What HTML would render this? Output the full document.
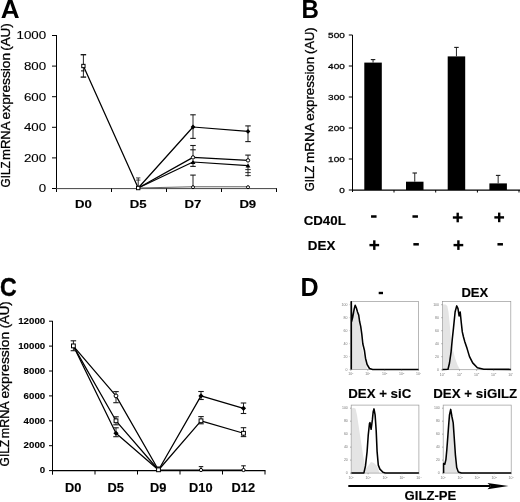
<!DOCTYPE html>
<html><head><meta charset="utf-8"><style>
html,body{margin:0;padding:0;background:#fff;}
body{width:520px;height:502px;overflow:hidden;}
svg{display:block;font-family:"Liberation Sans",sans-serif;filter:grayscale(1);}
</style></head><body>
<svg width="520" height="502" viewBox="0 0 520 502">
<rect width="520" height="502" fill="#fff"/>
<text transform="translate(0.65 18) scale(1.0440 1)" font-size="25.018" font-weight="bold" fill="#000">A</text>
<text transform="translate(10 187.38) rotate(-90) scale(0.9643 1)" font-size="12.100" font-weight="normal" fill="#000" stroke="#000" stroke-width="0.3">GILZ</text>
<text transform="translate(10 159.98) rotate(-90) scale(1.0808 1)" font-size="12.100" font-weight="normal" fill="#000" stroke="#000" stroke-width="0.3">mRNA</text>
<text transform="translate(10 119.39) rotate(-90) scale(1.1392 1)" font-size="12.100" font-weight="normal" fill="#000" stroke="#000" stroke-width="0.3">expression</text>
<text transform="translate(10 50.84) rotate(-90) scale(1.1119 1)" font-size="12.100" font-weight="normal" fill="#000" stroke="#000" stroke-width="0.3">(AU)</text>
<text transform="translate(38.71 192.4) scale(1.1738 1)" font-size="11.345" font-weight="normal" fill="#000" stroke="#000" stroke-width="0.12">0</text>
<text transform="translate(23.89 161.8) scale(1.1738 1)" font-size="11.345" font-weight="normal" fill="#000" stroke="#000" stroke-width="0.12">200</text>
<text transform="translate(23.89 131.2) scale(1.1738 1)" font-size="11.345" font-weight="normal" fill="#000" stroke="#000" stroke-width="0.12">400</text>
<text transform="translate(23.89 100.6) scale(1.1738 1)" font-size="11.345" font-weight="normal" fill="#000" stroke="#000" stroke-width="0.12">600</text>
<text transform="translate(23.89 70) scale(1.1738 1)" font-size="11.345" font-weight="normal" fill="#000" stroke="#000" stroke-width="0.12">800</text>
<text transform="translate(16.5 39.4) scale(1.1738 1)" font-size="11.345" font-weight="normal" fill="#000" stroke="#000" stroke-width="0.12">1000</text>
<line x1="52" y1="188.5" x2="56.5" y2="188.5" stroke="#000" stroke-width="1"/>
<line x1="52" y1="157.9" x2="56.5" y2="157.9" stroke="#000" stroke-width="1"/>
<line x1="52" y1="127.3" x2="56.5" y2="127.3" stroke="#000" stroke-width="1"/>
<line x1="52" y1="96.7" x2="56.5" y2="96.7" stroke="#000" stroke-width="1"/>
<line x1="52" y1="66.1" x2="56.5" y2="66.1" stroke="#000" stroke-width="1"/>
<line x1="52" y1="35.5" x2="56.5" y2="35.5" stroke="#000" stroke-width="1"/>
<line x1="56.5" y1="35" x2="56.5" y2="192" stroke="#000" stroke-width="1"/>
<line x1="56" y1="188.6" x2="277" y2="188.6" stroke="#444" stroke-width="1"/>
<line x1="111.5" y1="188.5" x2="111.5" y2="192" stroke="#000" stroke-width="1"/>
<line x1="166.5" y1="188.5" x2="166.5" y2="192" stroke="#000" stroke-width="1"/>
<line x1="221.5" y1="188.5" x2="221.5" y2="192" stroke="#000" stroke-width="1"/>
<line x1="276.5" y1="188.5" x2="276.5" y2="192" stroke="#000" stroke-width="1"/>
<text transform="translate(75.11 208.2) scale(1.1601 1)" font-size="11.345" font-weight="bold" fill="#000" stroke="#000" stroke-width="0.15">D0</text>
<text transform="translate(129.83 208.2) scale(1.1601 1)" font-size="11.345" font-weight="bold" fill="#000" stroke="#000" stroke-width="0.15">D5</text>
<text transform="translate(184.43 208.2) scale(1.1601 1)" font-size="11.345" font-weight="bold" fill="#000" stroke="#000" stroke-width="0.15">D7</text>
<text transform="translate(239.38 208.2) scale(1.1601 1)" font-size="11.345" font-weight="bold" fill="#000" stroke="#000" stroke-width="0.15">D9</text>
<polyline points="83.4,66 138.2,188 193,127 248,131.4" fill="none" stroke="#000" stroke-width="1.25" stroke-linejoin="round"/>
<polyline points="138.2,188 193,157.4 248,160.4" fill="none" stroke="#000" stroke-width="1.25" stroke-linejoin="round"/>
<polyline points="138.2,188 193,162 248,165.6" fill="none" stroke="#000" stroke-width="1.25" stroke-linejoin="round"/>
<polyline points="138.2,188 193,186.8 248,186.8" fill="none" stroke="#666" stroke-width="1.1" stroke-linejoin="round"/>
<line x1="83.4" y1="54.7" x2="83.4" y2="77.1" stroke="#1a1a1a" stroke-width="0.95"/>
<line x1="80.65" y1="54.7" x2="86.15" y2="54.7" stroke="#1a1a1a" stroke-width="1.4"/>
<line x1="80.65" y1="77.1" x2="86.15" y2="77.1" stroke="#1a1a1a" stroke-width="1.4"/>
<line x1="81" y1="70.9" x2="84.5" y2="70.9" stroke="#000" stroke-width="1"/>
<line x1="138.2" y1="178" x2="138.2" y2="188" stroke="#1a1a1a" stroke-width="0.95"/>
<line x1="136" y1="177.9" x2="140.4" y2="177.9" stroke="#1a1a1a" stroke-width="0.8"/>
<line x1="136" y1="180.1" x2="140.4" y2="180.1" stroke="#1a1a1a" stroke-width="0.8"/>
<line x1="193" y1="114.8" x2="193" y2="138.4" stroke="#1a1a1a" stroke-width="0.95"/>
<line x1="190.25" y1="114.8" x2="195.75" y2="114.8" stroke="#1a1a1a" stroke-width="1.1"/>
<line x1="190.25" y1="138.4" x2="195.75" y2="138.4" stroke="#1a1a1a" stroke-width="1.1"/>
<line x1="193" y1="145.5" x2="193" y2="157" stroke="#1a1a1a" stroke-width="0.95"/>
<line x1="190.25" y1="145.5" x2="195.75" y2="145.5" stroke="#1a1a1a" stroke-width="1.1"/>
<line x1="190.25" y1="149.8" x2="195.75" y2="149.8" stroke="#1a1a1a" stroke-width="1.1"/>
<line x1="193" y1="162" x2="193" y2="166.4" stroke="#1a1a1a" stroke-width="0.95"/>
<line x1="190.25" y1="166.4" x2="195.75" y2="166.4" stroke="#1a1a1a" stroke-width="1.1"/>
<line x1="193" y1="175.1" x2="193" y2="187" stroke="#1a1a1a" stroke-width="0.95"/>
<line x1="190.25" y1="175.1" x2="195.75" y2="175.1" stroke="#1a1a1a" stroke-width="1.1"/>
<line x1="248" y1="125.9" x2="248" y2="141.6" stroke="#1a1a1a" stroke-width="0.95"/>
<line x1="245.25" y1="125.9" x2="250.75" y2="125.9" stroke="#1a1a1a" stroke-width="1.1"/>
<line x1="245.25" y1="141.6" x2="250.75" y2="141.6" stroke="#1a1a1a" stroke-width="1.1"/>
<line x1="248" y1="155.1" x2="248" y2="160" stroke="#1a1a1a" stroke-width="0.95"/>
<line x1="245.25" y1="155.1" x2="250.75" y2="155.1" stroke="#1a1a1a" stroke-width="1.1"/>
<line x1="248" y1="165.5" x2="248" y2="176.5" stroke="#1a1a1a" stroke-width="0.95"/>
<line x1="245.25" y1="169.6" x2="250.75" y2="169.6" stroke="#1a1a1a" stroke-width="0.9"/>
<line x1="245.25" y1="172.6" x2="250.75" y2="172.6" stroke="#1a1a1a" stroke-width="0.9"/>
<line x1="245.25" y1="175.6" x2="250.75" y2="175.6" stroke="#1a1a1a" stroke-width="0.9"/>
<rect x="81.75" y="64.35" width="3.3" height="3.3" fill="#fff" stroke="#000" stroke-width="1"/>
<rect x="136.5" y="186.3" width="3.4" height="3.4" fill="#fff" stroke="#000" stroke-width="1"/>
<polygon points="193,124.6 195.4,127 193,129.4 190.6,127" fill="#000"/>
<polygon points="248,129 250.4,131.4 248,133.8 245.6,131.4" fill="#000"/>
<circle cx="193" cy="157.4" r="1.7" fill="#fff" stroke="#000" stroke-width="1"/>
<circle cx="248" cy="160.4" r="1.7" fill="#fff" stroke="#000" stroke-width="1"/>
<polygon points="193,159.6 195.4,163.92 190.6,163.92" fill="#000"/>
<polygon points="248,163.2 250.4,167.52 245.6,167.52" fill="#000"/>
<circle cx="193" cy="187.2" r="1.5" fill="#fff" stroke="#000" stroke-width="1"/>
<circle cx="248" cy="187.2" r="1.5" fill="#fff" stroke="#000" stroke-width="1"/>
<text transform="translate(301.47 17.8) scale(0.9632 1)" font-size="25.018" font-weight="bold" fill="#000">B</text>
<text transform="translate(314.2 191.28) rotate(-90) scale(0.9474 1)" font-size="12.218" font-weight="normal" fill="#000" stroke="#000" stroke-width="0.3">GILZ</text>
<text transform="translate(314.2 163.12) rotate(-90) scale(1.1159 1)" font-size="12.218" font-weight="normal" fill="#000" stroke="#000" stroke-width="0.3">mRNA</text>
<text transform="translate(314.2 120.86) rotate(-90) scale(1.0832 1)" font-size="12.218" font-weight="normal" fill="#000" stroke="#000" stroke-width="0.3">expression</text>
<text transform="translate(314.2 53.91) rotate(-90) scale(1.0588 1)" font-size="12.218" font-weight="normal" fill="#000" stroke="#000" stroke-width="0.3">(AU)</text>
<text transform="translate(339.22 192.7) scale(1.2731 1)" font-size="7.855" font-weight="normal" fill="#000" stroke="#000" stroke-width="0.25">0</text>
<text transform="translate(328.1 161.7) scale(1.2731 1)" font-size="7.855" font-weight="normal" fill="#000" stroke="#000" stroke-width="0.25">100</text>
<text transform="translate(328.1 130.7) scale(1.2731 1)" font-size="7.855" font-weight="normal" fill="#000" stroke="#000" stroke-width="0.25">200</text>
<text transform="translate(328.1 99.7) scale(1.2731 1)" font-size="7.855" font-weight="normal" fill="#000" stroke="#000" stroke-width="0.25">300</text>
<text transform="translate(328.1 68.7) scale(1.2731 1)" font-size="7.855" font-weight="normal" fill="#000" stroke="#000" stroke-width="0.25">400</text>
<text transform="translate(328.1 37.7) scale(1.2731 1)" font-size="7.855" font-weight="normal" fill="#000" stroke="#000" stroke-width="0.25">500</text>
<line x1="348.8" y1="190" x2="352.5" y2="190" stroke="#000" stroke-width="1"/>
<line x1="348.8" y1="159" x2="352.5" y2="159" stroke="#000" stroke-width="1"/>
<line x1="348.8" y1="128" x2="352.5" y2="128" stroke="#000" stroke-width="1"/>
<line x1="348.8" y1="97" x2="352.5" y2="97" stroke="#000" stroke-width="1"/>
<line x1="348.8" y1="66" x2="352.5" y2="66" stroke="#000" stroke-width="1"/>
<line x1="348.8" y1="35" x2="352.5" y2="35" stroke="#000" stroke-width="1"/>
<line x1="352.5" y1="35" x2="352.5" y2="192" stroke="#000" stroke-width="1"/>
<line x1="352" y1="190.1" x2="520" y2="190.1" stroke="#000" stroke-width="1.4"/>
<line x1="394" y1="190" x2="394" y2="192.5" stroke="#000" stroke-width="1"/>
<line x1="435.7" y1="190" x2="435.7" y2="192.5" stroke="#000" stroke-width="1"/>
<line x1="477.4" y1="190" x2="477.4" y2="192.5" stroke="#000" stroke-width="1"/>
<line x1="519" y1="190" x2="519" y2="192.5" stroke="#000" stroke-width="1"/>
<rect x="364.3" y="62.6" width="17.5" height="127.4" fill="#000"/>
<line x1="373.05" y1="59.6" x2="373.05" y2="62.6" stroke="#1a1a1a" stroke-width="0.95"/>
<line x1="370.8" y1="59.6" x2="375.3" y2="59.6" stroke="#1a1a1a" stroke-width="1.1"/>
<rect x="406" y="181.7" width="17.5" height="8.3" fill="#000"/>
<line x1="414.75" y1="173" x2="414.75" y2="181.7" stroke="#1a1a1a" stroke-width="0.95"/>
<line x1="412.5" y1="173" x2="417" y2="173" stroke="#1a1a1a" stroke-width="1.1"/>
<rect x="447.7" y="56.4" width="17.5" height="133.6" fill="#000"/>
<line x1="456.45" y1="47.4" x2="456.45" y2="56.4" stroke="#1a1a1a" stroke-width="0.95"/>
<line x1="454.2" y1="47.4" x2="458.7" y2="47.4" stroke="#1a1a1a" stroke-width="1.1"/>
<rect x="489.4" y="183.4" width="17.5" height="6.6" fill="#000"/>
<line x1="498.15" y1="175.4" x2="498.15" y2="183.4" stroke="#1a1a1a" stroke-width="0.95"/>
<line x1="495.9" y1="175.4" x2="500.4" y2="175.4" stroke="#1a1a1a" stroke-width="1.1"/>
<text transform="translate(303.67 224.6) scale(0.9940 1)" font-size="13.382" font-weight="bold" fill="#000" stroke="#000" stroke-width="0.15">CD40L</text>
<text transform="translate(307.8 249.8) scale(1.0002 1)" font-size="13.382" font-weight="bold" fill="#000" stroke="#000" stroke-width="0.15">DEX</text>
<rect x="371.05" y="215.25" width="5.5" height="2.5" fill="#000"/>
<rect x="412.45" y="215.25" width="5.5" height="2.5" fill="#000"/>
<rect x="452.85" y="216.3" width="9.7" height="2.4" fill="#000"/>
<rect x="456.5" y="212.7" width="2.4" height="9.6" fill="#000"/>
<rect x="494.35" y="216.2" width="9.7" height="2.4" fill="#000"/>
<rect x="498" y="212.6" width="2.4" height="9.6" fill="#000"/>
<rect x="369.45" y="243.9" width="9.7" height="2.4" fill="#000"/>
<rect x="373.1" y="240.3" width="2.4" height="9.6" fill="#000"/>
<rect x="413.35" y="243.05" width="5.5" height="2.5" fill="#000"/>
<rect x="453.55" y="243.9" width="9.7" height="2.4" fill="#000"/>
<rect x="457.2" y="240.3" width="2.4" height="9.6" fill="#000"/>
<rect x="497.45" y="243.05" width="5.5" height="2.5" fill="#000"/>
<text transform="translate(-0.02 295.7) scale(0.9136 1)" font-size="25.233" font-weight="bold" fill="#000" stroke="#000" stroke-width="0.4">C</text>
<text transform="translate(9.3 466.4) rotate(-90) scale(0.9897 1)" font-size="12.073" font-weight="normal" fill="#000" stroke="#000" stroke-width="0.3">GILZ</text>
<text transform="translate(9.3 438.14) rotate(-90) scale(1.0314 1)" font-size="12.073" font-weight="normal" fill="#000" stroke="#000" stroke-width="0.3">mRNA</text>
<text transform="translate(9.3 398.59) rotate(-90) scale(1.1435 1)" font-size="12.073" font-weight="normal" fill="#000" stroke="#000" stroke-width="0.3">expression</text>
<text transform="translate(9.3 328.32) rotate(-90) scale(1.0887 1)" font-size="12.073" font-weight="normal" fill="#000" stroke="#000" stroke-width="0.3">(AU)</text>
<text transform="translate(39.8 473.3) scale(1.0271 1)" font-size="9.455" font-weight="bold" fill="#000" stroke="#000" stroke-width="0.1">0</text>
<text transform="translate(23.61 448.4) scale(1.0271 1)" font-size="9.455" font-weight="bold" fill="#000" stroke="#000" stroke-width="0.1">2000</text>
<text transform="translate(23.61 423.5) scale(1.0271 1)" font-size="9.455" font-weight="bold" fill="#000" stroke="#000" stroke-width="0.1">4000</text>
<text transform="translate(23.61 398.6) scale(1.0271 1)" font-size="9.455" font-weight="bold" fill="#000" stroke="#000" stroke-width="0.1">6000</text>
<text transform="translate(23.61 373.7) scale(1.0271 1)" font-size="9.455" font-weight="bold" fill="#000" stroke="#000" stroke-width="0.1">8000</text>
<text transform="translate(18.19 348.8) scale(1.0271 1)" font-size="9.455" font-weight="bold" fill="#000" stroke="#000" stroke-width="0.1">10000</text>
<text transform="translate(18.19 323.9) scale(1.0271 1)" font-size="9.455" font-weight="bold" fill="#000" stroke="#000" stroke-width="0.1">12000</text>
<line x1="49" y1="470.6" x2="52.5" y2="470.6" stroke="#000" stroke-width="1"/>
<line x1="49" y1="445.7" x2="52.5" y2="445.7" stroke="#000" stroke-width="1"/>
<line x1="49" y1="420.8" x2="52.5" y2="420.8" stroke="#000" stroke-width="1"/>
<line x1="49" y1="395.9" x2="52.5" y2="395.9" stroke="#000" stroke-width="1"/>
<line x1="49" y1="371" x2="52.5" y2="371" stroke="#000" stroke-width="1"/>
<line x1="49" y1="346.1" x2="52.5" y2="346.1" stroke="#000" stroke-width="1"/>
<line x1="49" y1="321.2" x2="52.5" y2="321.2" stroke="#000" stroke-width="1"/>
<line x1="52.5" y1="320.9" x2="52.5" y2="474.7" stroke="#000" stroke-width="1"/>
<line x1="52" y1="470.6" x2="265.5" y2="470.6" stroke="#000" stroke-width="1.3"/>
<line x1="95" y1="470.6" x2="95" y2="474.5" stroke="#000" stroke-width="1"/>
<line x1="137.5" y1="470.6" x2="137.5" y2="474.5" stroke="#000" stroke-width="1"/>
<line x1="180" y1="470.6" x2="180" y2="474.5" stroke="#000" stroke-width="1"/>
<line x1="222.5" y1="470.6" x2="222.5" y2="474.5" stroke="#000" stroke-width="1"/>
<line x1="265" y1="470.6" x2="265" y2="474.5" stroke="#000" stroke-width="1"/>
<text transform="translate(65.03 491.9) scale(1.0249 1)" font-size="12.509" font-weight="bold" fill="#000" stroke="#000" stroke-width="0.15">D0</text>
<text transform="translate(107.55 491.9) scale(1.0249 1)" font-size="12.509" font-weight="bold" fill="#000" stroke="#000" stroke-width="0.15">D5</text>
<text transform="translate(150.1 491.9) scale(1.0249 1)" font-size="12.509" font-weight="bold" fill="#000" stroke="#000" stroke-width="0.15">D9</text>
<text transform="translate(189.08 491.9) scale(1.0249 1)" font-size="12.509" font-weight="bold" fill="#000" stroke="#000" stroke-width="0.15">D10</text>
<text transform="translate(231.56 491.9) scale(1.0249 1)" font-size="12.509" font-weight="bold" fill="#000" stroke="#000" stroke-width="0.15">D12</text>
<polyline points="73.4,346.1 116,433.25 158.5,470 201,395.9 243.5,408.35" fill="none" stroke="#000" stroke-width="1.25" stroke-linejoin="round"/>
<polyline points="73.4,346.1 116,420.8 158.5,470 201,420.8 243.5,433.25" fill="none" stroke="#000" stroke-width="1.25" stroke-linejoin="round"/>
<polyline points="73.4,346.1 116,395.9 158.5,470 201,470 243.5,470" fill="none" stroke="#000" stroke-width="1.25" stroke-linejoin="round"/>
<line x1="73.4" y1="340.8" x2="73.4" y2="350.7" stroke="#1a1a1a" stroke-width="0.95"/>
<line x1="70.65" y1="340.8" x2="76.15" y2="340.8" stroke="#1a1a1a" stroke-width="1.1"/>
<line x1="70.65" y1="350.7" x2="76.15" y2="350.7" stroke="#1a1a1a" stroke-width="1.1"/>
<line x1="116" y1="391.6" x2="116" y2="402.7" stroke="#1a1a1a" stroke-width="0.95"/>
<line x1="113.25" y1="391.6" x2="118.75" y2="391.6" stroke="#1a1a1a" stroke-width="1.1"/>
<line x1="113.25" y1="402.7" x2="118.75" y2="402.7" stroke="#1a1a1a" stroke-width="1.1"/>
<line x1="116" y1="416.8" x2="116" y2="424.8" stroke="#1a1a1a" stroke-width="0.95"/>
<line x1="113.25" y1="416.8" x2="118.75" y2="416.8" stroke="#1a1a1a" stroke-width="1.1"/>
<line x1="113.25" y1="424.8" x2="118.75" y2="424.8" stroke="#1a1a1a" stroke-width="1.1"/>
<line x1="116" y1="427.8" x2="116" y2="436.7" stroke="#1a1a1a" stroke-width="0.95"/>
<line x1="113.25" y1="427.8" x2="118.75" y2="427.8" stroke="#1a1a1a" stroke-width="1.1"/>
<line x1="113.25" y1="436.7" x2="118.75" y2="436.7" stroke="#1a1a1a" stroke-width="1.1"/>
<line x1="201" y1="391.5" x2="201" y2="399.5" stroke="#1a1a1a" stroke-width="0.95"/>
<line x1="198.25" y1="391.5" x2="203.75" y2="391.5" stroke="#1a1a1a" stroke-width="1.1"/>
<line x1="198.25" y1="399.5" x2="203.75" y2="399.5" stroke="#1a1a1a" stroke-width="1.1"/>
<line x1="243.5" y1="403" x2="243.5" y2="413.5" stroke="#1a1a1a" stroke-width="0.95"/>
<line x1="240.75" y1="403" x2="246.25" y2="403" stroke="#1a1a1a" stroke-width="1.1"/>
<line x1="240.75" y1="413.5" x2="246.25" y2="413.5" stroke="#1a1a1a" stroke-width="1.1"/>
<line x1="201" y1="416.6" x2="201" y2="423.8" stroke="#1a1a1a" stroke-width="0.95"/>
<line x1="198.25" y1="416.6" x2="203.75" y2="416.6" stroke="#1a1a1a" stroke-width="1.1"/>
<line x1="198.25" y1="423.8" x2="203.75" y2="423.8" stroke="#1a1a1a" stroke-width="1.1"/>
<line x1="243.5" y1="427.7" x2="243.5" y2="436.6" stroke="#1a1a1a" stroke-width="0.95"/>
<line x1="240.75" y1="427.7" x2="246.25" y2="427.7" stroke="#1a1a1a" stroke-width="1.1"/>
<line x1="240.75" y1="436.6" x2="246.25" y2="436.6" stroke="#1a1a1a" stroke-width="1.1"/>
<line x1="201" y1="466.6" x2="201" y2="470" stroke="#1a1a1a" stroke-width="0.95"/>
<line x1="198.75" y1="466.6" x2="203.25" y2="466.6" stroke="#1a1a1a" stroke-width="1.1"/>
<line x1="243.5" y1="465.8" x2="243.5" y2="470" stroke="#1a1a1a" stroke-width="0.95"/>
<line x1="241.25" y1="465.8" x2="245.75" y2="465.8" stroke="#1a1a1a" stroke-width="1.1"/>
<line x1="158.5" y1="467" x2="158.5" y2="470" stroke="#1a1a1a" stroke-width="0.95"/>
<line x1="156.25" y1="467" x2="160.75" y2="467" stroke="#1a1a1a" stroke-width="1.1"/>
<rect x="71.5" y="344" width="3.8" height="3.8" fill="#fff" stroke="#000" stroke-width="1"/>
<circle cx="116" cy="395.9" r="1.9" fill="#fff" stroke="#000" stroke-width="1"/>
<rect x="114.1" y="418.9" width="3.8" height="3.8" fill="#fff" stroke="#000" stroke-width="1"/>
<polygon points="116,430.65 118.6,433.25 116,435.85 113.4,433.25" fill="#000"/>
<rect x="156.6" y="467.9" width="3.8" height="3.8" fill="#fff" stroke="#000" stroke-width="1"/>
<polygon points="201,393.3 203.6,395.9 201,398.5 198.4,395.9" fill="#000"/>
<rect x="199.1" y="418.9" width="3.8" height="3.8" fill="#fff" stroke="#000" stroke-width="1"/>
<circle cx="201" cy="470" r="1.6" fill="#fff" stroke="#000" stroke-width="1"/>
<polygon points="243.5,405.75 246.1,408.35 243.5,410.95 240.9,408.35" fill="#000"/>
<rect x="241.6" y="431.35" width="3.8" height="3.8" fill="#fff" stroke="#000" stroke-width="1"/>
<circle cx="243.5" cy="470" r="1.6" fill="#fff" stroke="#000" stroke-width="1"/>
<text transform="translate(300.5 295.8) scale(0.9821 1)" font-size="25.600" font-weight="bold" fill="#000">D</text>
<rect x="378.7" y="291.8" width="4.3" height="2.4" fill="#000"/>
<text transform="translate(461.42 297) scale(0.9775 1)" font-size="13.382" font-weight="bold" fill="#000" stroke="#000" stroke-width="0.15">DEX</text>
<text transform="translate(348.2 397.5) scale(0.9705 1)" font-size="13.673" font-weight="bold" fill="#000" stroke="#000" stroke-width="0.15">DEX + siC</text>
<text transform="translate(433.2 397.5) scale(0.9748 1)" font-size="13.673" font-weight="bold" fill="#000" stroke="#000" stroke-width="0.15">DEX + siGILZ</text>
<polygon points="351.2,369.6 351.2,318 352.5,317 354,313 355.5,311 357,313.5 358.5,318 359.5,325 360.5,333 361.2,342 362.5,350 364,356 365.5,362 367.2,369.6" fill="#e4e4e4"/>
<rect x="350.8" y="301.6" width="67.8" height="68" fill="none" stroke="#999" stroke-width="0.7"/>
<polyline points="351.3,369.4 351.3,301.8 351.6,321.5 352.8,316.7 354.2,309 355.2,305.2 356.4,308 357.5,312 358.7,315.1 359.6,321.5 360.7,326.3 361.8,334.2 362.8,343.8 364.4,350.2 365.5,358.2 367.1,364.5 369.5,368.5 372.7,369.4 418.6,369.4" fill="none" stroke="#000" stroke-width="1.55" stroke-linejoin="round"/>
<text x="347.4" y="370.7" font-size="3.5" text-anchor="end" fill="#777">0</text>
<line x1="349.6" y1="369.6" x2="350.8" y2="369.6" stroke="#666" stroke-width="0.5"/>
<text x="347.4" y="357.72" font-size="3.5" text-anchor="end" fill="#777">20</text>
<line x1="349.6" y1="356.62" x2="350.8" y2="356.62" stroke="#666" stroke-width="0.5"/>
<text x="347.4" y="344.74" font-size="3.5" text-anchor="end" fill="#777">40</text>
<line x1="349.6" y1="343.64" x2="350.8" y2="343.64" stroke="#666" stroke-width="0.5"/>
<text x="347.4" y="331.76" font-size="3.5" text-anchor="end" fill="#777">60</text>
<line x1="349.6" y1="330.66" x2="350.8" y2="330.66" stroke="#666" stroke-width="0.5"/>
<text x="347.4" y="318.78" font-size="3.5" text-anchor="end" fill="#777">80</text>
<line x1="349.6" y1="317.68" x2="350.8" y2="317.68" stroke="#666" stroke-width="0.5"/>
<text x="347.4" y="305.8" font-size="3.5" text-anchor="end" fill="#777">100</text>
<line x1="349.6" y1="304.7" x2="350.8" y2="304.7" stroke="#666" stroke-width="0.5"/>
<text x="350.8" y="375.4" font-size="3.5" text-anchor="middle" fill="#777">10<tspan font-size="2.3" dy="-1.2">0</tspan></text>
<line x1="350.8" y1="369.6" x2="350.8" y2="370.8" stroke="#666" stroke-width="0.5"/>
<text x="367.75" y="375.4" font-size="3.5" text-anchor="middle" fill="#777">10<tspan font-size="2.3" dy="-1.2">1</tspan></text>
<line x1="367.75" y1="369.6" x2="367.75" y2="370.8" stroke="#666" stroke-width="0.5"/>
<text x="384.7" y="375.4" font-size="3.5" text-anchor="middle" fill="#777">10<tspan font-size="2.3" dy="-1.2">2</tspan></text>
<line x1="384.7" y1="369.6" x2="384.7" y2="370.8" stroke="#666" stroke-width="0.5"/>
<text x="401.65" y="375.4" font-size="3.5" text-anchor="middle" fill="#777">10<tspan font-size="2.3" dy="-1.2">3</tspan></text>
<line x1="401.65" y1="369.6" x2="401.65" y2="370.8" stroke="#666" stroke-width="0.5"/>
<text x="418.6" y="375.4" font-size="3.5" text-anchor="middle" fill="#777">10<tspan font-size="2.3" dy="-1.2">4</tspan></text>
<line x1="418.6" y1="369.6" x2="418.6" y2="370.8" stroke="#666" stroke-width="0.5"/>
<polygon points="442.9,369.7 442.9,304.5 445.5,304.5 447.3,306 448.5,312 449.5,322 450.5,333 451.5,342 453,350 455,358 457.5,365 460,369.7" fill="#e4e4e4"/>
<rect x="442.4" y="301.6" width="68.4" height="68.1" fill="none" stroke="#999" stroke-width="0.7"/>
<polyline points="442.6,369.4 448,369.2 449.5,363 451.1,351.8 452.3,339 453.5,327.9 455.1,312 456.7,305.9 458,308.7 459.1,315.9 460.2,312 461.2,322 462.3,331.9 463.5,337 464.7,341.4 467.1,348.6 469.5,356.6 472.7,362.9 477.4,367.7 483.8,369.2 510.8,369.4" fill="none" stroke="#000" stroke-width="1.55" stroke-linejoin="round"/>
<text x="439" y="370.8" font-size="3.5" text-anchor="end" fill="#777">0</text>
<line x1="441.2" y1="369.7" x2="442.4" y2="369.7" stroke="#666" stroke-width="0.5"/>
<text x="439" y="357.8" font-size="3.5" text-anchor="end" fill="#777">20</text>
<line x1="441.2" y1="356.7" x2="442.4" y2="356.7" stroke="#666" stroke-width="0.5"/>
<text x="439" y="344.8" font-size="3.5" text-anchor="end" fill="#777">40</text>
<line x1="441.2" y1="343.7" x2="442.4" y2="343.7" stroke="#666" stroke-width="0.5"/>
<text x="439" y="331.8" font-size="3.5" text-anchor="end" fill="#777">60</text>
<line x1="441.2" y1="330.7" x2="442.4" y2="330.7" stroke="#666" stroke-width="0.5"/>
<text x="439" y="318.8" font-size="3.5" text-anchor="end" fill="#777">80</text>
<line x1="441.2" y1="317.7" x2="442.4" y2="317.7" stroke="#666" stroke-width="0.5"/>
<text x="439" y="305.8" font-size="3.5" text-anchor="end" fill="#777">100</text>
<line x1="441.2" y1="304.7" x2="442.4" y2="304.7" stroke="#666" stroke-width="0.5"/>
<text x="442.4" y="375.5" font-size="3.5" text-anchor="middle" fill="#777">10<tspan font-size="2.3" dy="-1.2">0</tspan></text>
<line x1="442.4" y1="369.7" x2="442.4" y2="370.9" stroke="#666" stroke-width="0.5"/>
<text x="459.5" y="375.5" font-size="3.5" text-anchor="middle" fill="#777">10<tspan font-size="2.3" dy="-1.2">1</tspan></text>
<line x1="459.5" y1="369.7" x2="459.5" y2="370.9" stroke="#666" stroke-width="0.5"/>
<text x="476.6" y="375.5" font-size="3.5" text-anchor="middle" fill="#777">10<tspan font-size="2.3" dy="-1.2">2</tspan></text>
<line x1="476.6" y1="369.7" x2="476.6" y2="370.9" stroke="#666" stroke-width="0.5"/>
<text x="493.7" y="375.5" font-size="3.5" text-anchor="middle" fill="#777">10<tspan font-size="2.3" dy="-1.2">3</tspan></text>
<line x1="493.7" y1="369.7" x2="493.7" y2="370.9" stroke="#666" stroke-width="0.5"/>
<text x="510.8" y="375.5" font-size="3.5" text-anchor="middle" fill="#777">10<tspan font-size="2.3" dy="-1.2">4</tspan></text>
<line x1="510.8" y1="369.7" x2="510.8" y2="370.9" stroke="#666" stroke-width="0.5"/>
<polygon points="351.7,473.1 351.7,409 353,407.8 355.5,408.5 357,415 358.5,425 360,435 361.5,445 363,455 364.5,463 366,468 368,466 371,462 374,463 377,466 379.5,473.1" fill="#e4e4e4"/>
<rect x="351.2" y="405.1" width="67.7" height="68" fill="none" stroke="#999" stroke-width="0.7"/>
<polyline points="351.4,472.9 363.9,472.9 365.5,465.9 367.1,451.6 368.2,435.7 369.5,423.5 370,422.6 371.1,429.3 372.4,419.7 373.2,411.7 374,408.9 375.1,414.9 376.2,430.9 377.1,451.6 378.3,465.1 379.9,469.1 383,472.3 385.4,472.9 418.9,472.9" fill="none" stroke="#000" stroke-width="1.55" stroke-linejoin="round"/>
<text x="347.8" y="474.2" font-size="3.5" text-anchor="end" fill="#777">0</text>
<line x1="350" y1="473.1" x2="351.2" y2="473.1" stroke="#666" stroke-width="0.5"/>
<text x="347.8" y="461.22" font-size="3.5" text-anchor="end" fill="#777">20</text>
<line x1="350" y1="460.12" x2="351.2" y2="460.12" stroke="#666" stroke-width="0.5"/>
<text x="347.8" y="448.24" font-size="3.5" text-anchor="end" fill="#777">40</text>
<line x1="350" y1="447.14" x2="351.2" y2="447.14" stroke="#666" stroke-width="0.5"/>
<text x="347.8" y="435.26" font-size="3.5" text-anchor="end" fill="#777">60</text>
<line x1="350" y1="434.16" x2="351.2" y2="434.16" stroke="#666" stroke-width="0.5"/>
<text x="347.8" y="422.28" font-size="3.5" text-anchor="end" fill="#777">80</text>
<line x1="350" y1="421.18" x2="351.2" y2="421.18" stroke="#666" stroke-width="0.5"/>
<text x="347.8" y="409.3" font-size="3.5" text-anchor="end" fill="#777">100</text>
<line x1="350" y1="408.2" x2="351.2" y2="408.2" stroke="#666" stroke-width="0.5"/>
<text x="351.2" y="478.9" font-size="3.5" text-anchor="middle" fill="#777">10<tspan font-size="2.3" dy="-1.2">0</tspan></text>
<line x1="351.2" y1="473.1" x2="351.2" y2="474.3" stroke="#666" stroke-width="0.5"/>
<text x="368.12" y="478.9" font-size="3.5" text-anchor="middle" fill="#777">10<tspan font-size="2.3" dy="-1.2">1</tspan></text>
<line x1="368.12" y1="473.1" x2="368.12" y2="474.3" stroke="#666" stroke-width="0.5"/>
<text x="385.05" y="478.9" font-size="3.5" text-anchor="middle" fill="#777">10<tspan font-size="2.3" dy="-1.2">2</tspan></text>
<line x1="385.05" y1="473.1" x2="385.05" y2="474.3" stroke="#666" stroke-width="0.5"/>
<text x="401.97" y="478.9" font-size="3.5" text-anchor="middle" fill="#777">10<tspan font-size="2.3" dy="-1.2">3</tspan></text>
<line x1="401.97" y1="473.1" x2="401.97" y2="474.3" stroke="#666" stroke-width="0.5"/>
<text x="418.9" y="478.9" font-size="3.5" text-anchor="middle" fill="#777">10<tspan font-size="2.3" dy="-1.2">4</tspan></text>
<line x1="418.9" y1="473.1" x2="418.9" y2="474.3" stroke="#666" stroke-width="0.5"/>
<polygon points="444,473.1 444.5,466 445.8,462 447,451 448,437 449,424 450,414 450.8,412 451.8,418 453,426 454,440 455,454 456,466 457,473.1" fill="#e4e4e4"/>
<rect x="443.2" y="405.1" width="68" height="68" fill="none" stroke="#999" stroke-width="0.7"/>
<polyline points="443.6,472.9 443.6,463.5 444.8,464.3 445.9,459.6 446.8,450 448,434.1 448.7,424.5 449.5,414.9 450.7,409.4 451.9,416.5 453.2,422.9 454.3,438.8 455.4,454.8 456.7,467.5 458.3,472 461.5,472.9 511.2,472.9" fill="none" stroke="#000" stroke-width="1.55" stroke-linejoin="round"/>
<text x="439.8" y="474.2" font-size="3.5" text-anchor="end" fill="#777">0</text>
<line x1="442" y1="473.1" x2="443.2" y2="473.1" stroke="#666" stroke-width="0.5"/>
<text x="439.8" y="461.22" font-size="3.5" text-anchor="end" fill="#777">20</text>
<line x1="442" y1="460.12" x2="443.2" y2="460.12" stroke="#666" stroke-width="0.5"/>
<text x="439.8" y="448.24" font-size="3.5" text-anchor="end" fill="#777">40</text>
<line x1="442" y1="447.14" x2="443.2" y2="447.14" stroke="#666" stroke-width="0.5"/>
<text x="439.8" y="435.26" font-size="3.5" text-anchor="end" fill="#777">60</text>
<line x1="442" y1="434.16" x2="443.2" y2="434.16" stroke="#666" stroke-width="0.5"/>
<text x="439.8" y="422.28" font-size="3.5" text-anchor="end" fill="#777">80</text>
<line x1="442" y1="421.18" x2="443.2" y2="421.18" stroke="#666" stroke-width="0.5"/>
<text x="439.8" y="409.3" font-size="3.5" text-anchor="end" fill="#777">100</text>
<line x1="442" y1="408.2" x2="443.2" y2="408.2" stroke="#666" stroke-width="0.5"/>
<text x="443.2" y="478.9" font-size="3.5" text-anchor="middle" fill="#777">10<tspan font-size="2.3" dy="-1.2">0</tspan></text>
<line x1="443.2" y1="473.1" x2="443.2" y2="474.3" stroke="#666" stroke-width="0.5"/>
<text x="460.2" y="478.9" font-size="3.5" text-anchor="middle" fill="#777">10<tspan font-size="2.3" dy="-1.2">1</tspan></text>
<line x1="460.2" y1="473.1" x2="460.2" y2="474.3" stroke="#666" stroke-width="0.5"/>
<text x="477.2" y="478.9" font-size="3.5" text-anchor="middle" fill="#777">10<tspan font-size="2.3" dy="-1.2">2</tspan></text>
<line x1="477.2" y1="473.1" x2="477.2" y2="474.3" stroke="#666" stroke-width="0.5"/>
<text x="494.2" y="478.9" font-size="3.5" text-anchor="middle" fill="#777">10<tspan font-size="2.3" dy="-1.2">3</tspan></text>
<line x1="494.2" y1="473.1" x2="494.2" y2="474.3" stroke="#666" stroke-width="0.5"/>
<text x="511.2" y="478.9" font-size="3.5" text-anchor="middle" fill="#777">10<tspan font-size="2.3" dy="-1.2">4</tspan></text>
<line x1="511.2" y1="473.1" x2="511.2" y2="474.3" stroke="#666" stroke-width="0.5"/>
<line x1="348.3" y1="486" x2="490" y2="486" stroke="#000" stroke-width="2.1"/>
<path d="M487.5,483.1 L508.5,486.1 L487.5,489.3 L490.5,486.1 Z" fill="#000"/>
<text transform="translate(404.58 500.4) scale(1.0248 1)" font-size="12.800" font-weight="bold" fill="#000" stroke="#000" stroke-width="0.15">GILZ-PE</text>
</svg>
</body></html>
